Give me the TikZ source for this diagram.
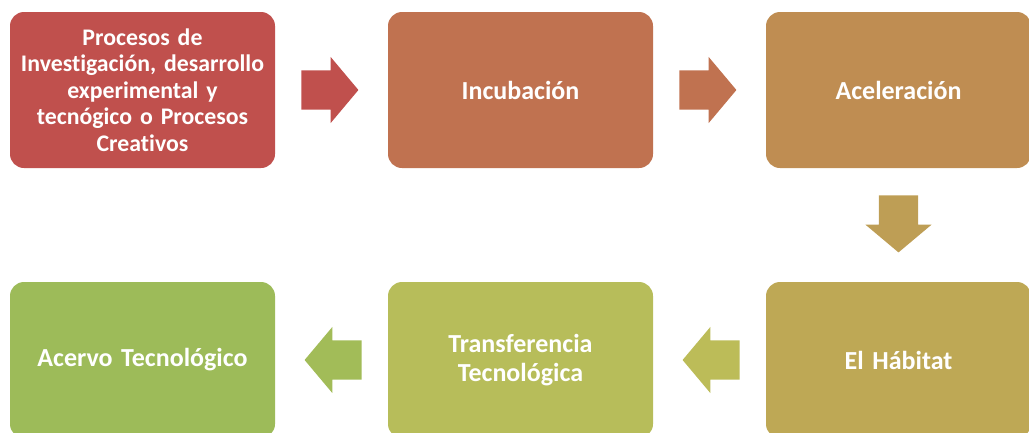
\documentclass[tikz,border=0pt]{standalone}
\usepackage{fontspec}
\setmainfont{Carlito}[BoldFont={Carlito Bold},Ligatures=NoCommon]
\usetikzlibrary{shapes.arrows,calc}

\definecolor{rojo}{HTML}{C0504D}
\definecolor{cobre}{HTML}{C07250}
\definecolor{ocre}{HTML}{BF8D52}
\definecolor{dorado}{HTML}{BE9E55}
\definecolor{arena}{HTML}{BEA855}
\definecolor{oliva}{HTML}{B7BD5A}
\definecolor{olivaclaro}{HTML}{BCBC58}
\definecolor{verde}{HTML}{9DBB59}
\definecolor{verdeflecha}{HTML}{A2BC58}

\tikzset{
  caja/.style={rectangle, rounded corners=14pt, minimum width=265pt,
    minimum height=156pt, text width=260pt, align=center, inner sep=0pt,
    text=white, font=\bfseries\fontsize{26}{28.5}\selectfont},
  flecha/.style={single arrow, minimum height=57pt, inner xsep=0pt, inner ysep=19.5pt,
    single arrow head extend=13.5pt, single arrow tip angle=100, anchor=tail}
}

\begin{document}
\begin{tikzpicture}[x=1pt,y=-1pt]
  \useasboundingbox (0,0) rectangle (1029,432);
  \clip (0,0) rectangle (1029,432);

  % fila de arriba
  \node[caja, fill=rojo, font=\bfseries\fontsize{23.8}{26.6}\selectfont] (procesos) at (142.5,90) {Procesos de\\Investigación, desarrollo\\experimental y\\tecnógico o Procesos\\Creativos};
  \node[caja, fill=cobre] (incubacion) at (520.5,90) {Incubación};
  \node[caja, fill=ocre] (aceleracion) at (898.5,90) {Aceleración};

  % fila de abajo
  \node[caja, fill=arena] (habitat) at (898.5,360) {El Hábitat};
  \node[caja, fill=oliva] (transferencia) at (520.5,360) {Transferencia\\Tecnológica};
  \node[caja, fill=verde] (acervo) at (142.5,360) {Acervo Tecnológico};

  % flechas
  \node[flecha, fill=rojo] (f1) at ($(procesos.east)+(26,0)$) {};
  \node[flecha, fill=cobre] (f2) at ($(incubacion.east)+(26,0)$) {};
  \node[flecha, fill=dorado, shape border rotate=270, inner xsep=19.5pt, inner ysep=0pt] (f3) at ($(aceleracion.south)+(0,27)$) {};
  \node[flecha, fill=olivaclaro, shape border rotate=180] (f4) at ($(habitat.west)+(-26,0)$) {};
  \node[flecha, fill=verdeflecha, shape border rotate=180] (f5) at ($(transferencia.west)+(-26,0)$) {};
\end{tikzpicture}
\end{document}
